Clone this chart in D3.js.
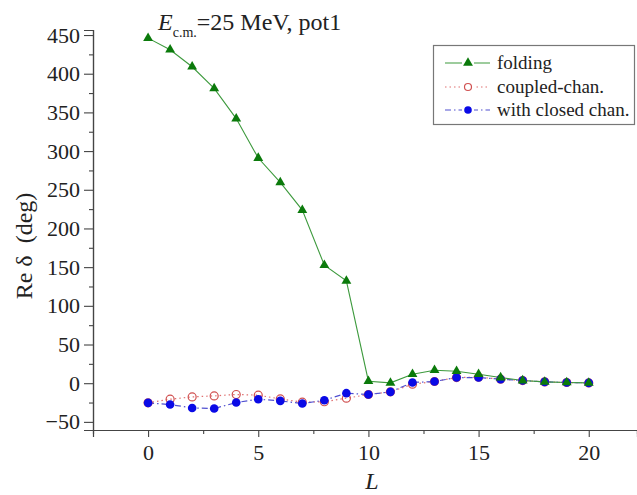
<!DOCTYPE html>
<html><head><meta charset="utf-8">
<script src="https://cdn.jsdelivr.net/npm/d3@7"></script>
<style>body{margin:0;background:#fff}svg{display:block}svg text{font-family:"Liberation Serif","DejaVu Serif",serif !important}</style>
</head><body>
<script>
const L = [0,1,2,3,4,5,6,7,8,9,10,11,12,13,14,15,16,17,18,19,20];
const folding = [446,431,409,381,342,291,259.5,223.7,152.5,132.3,2.6,0.4,11.6,16.8,15.5,11.6,7.3,3.4,1.7,0.9,0.4];
const coupled = [-25.4,-20.7,-17.7,-16.4,-14.6,-15.5,-20.3,-24.6,-24,-19.4,-14.6,-11.2,-1.3,2.2,7.3,7.8,5.2,3.4,1.7,0.9,0.4];
const closed = [-25.4,-27.6,-32,-32.8,-25,-20.7,-22.9,-26.3,-22,-12.9,-14.6,-11.2,0.9,2.2,7.3,7.3,5.2,3.4,1.7,0.9,0.4];
const xTicks = [0,5,10,15,20];
const yTicks = [-50,0,50,100,150,200,250,300,350,400,450];
const seriesNames = ["folding","coupled-chan.","with closed chan."];

const W = 637, H = 495;
const svg = d3.select("body").append("svg").attr("width", W).attr("height", H);
const x = d3.scaleLinear().domain([-2.5, 22.19]).range([93, 637]);
const y = d3.scaleLinear().domain([-60.5, 456.5]).range([430, 30]);
const axisCol = "#444";

// axes
const xAxis = svg.append("g").attr("transform", `translate(0,${y.range()[0]})`)
  .call(d3.axisBottom(x).tickValues(xTicks).tickSize(7).tickPadding(6).tickFormat(d3.format("d")));
const xMinor = svg.append("g").attr("transform", `translate(0,${y.range()[0]})`)
  .call(d3.axisBottom(x).tickValues([2.5,7.5,12.5,17.5]).tickSize(4).tickFormat(""));
const yAxis = svg.append("g").attr("transform", `translate(${x.range()[0]},0)`)
  .call(d3.axisLeft(y).tickValues(yTicks).tickSize(9).tickPadding(4).tickFormat(d3.format("d")));
const yMinor = svg.append("g").attr("transform", `translate(${x.range()[0]},0)`)
  .call(d3.axisLeft(y).tickValues(d3.range(-25, 450, 50)).tickSize(4).tickFormat(""));
[xAxis, xMinor, yAxis, yMinor].forEach(g => {
  g.select(".domain").attr("stroke", axisCol).attr("stroke-width", 1.2);
  g.selectAll(".tick line").attr("stroke", axisCol).attr("stroke-width", 1.1);
  g.selectAll(".tick text").style("font-size", "22px").attr("fill", "#222");
});
xAxis.selectAll(".tick text").attr("dy", "0.78em");

// axis titles
svg.append("text").attr("x", 372).attr("y", 489).attr("text-anchor", "middle")
  .style("font-size", "24px").attr("font-style", "italic").attr("fill", "#222").text("L");
svg.append("text").attr("transform", "translate(32,246) rotate(-90)").attr("text-anchor", "middle")
  .style("font-size", "24px").attr("fill", "#222").attr("xml:space", "preserve").text("Re δ  (deg)");

// title
const t = svg.append("text").attr("x", 158).attr("y", 30).style("font-size", "24px").attr("fill", "#222");
t.append("tspan").attr("font-style", "italic").text("E");
t.append("tspan").style("font-size", "14px").attr("dy", 7).text("c.m.");
t.append("tspan").attr("dy", -7).text("=25 MeV, pot1");

// data
const pts = arr => L.map((l, i) => [l, arr[i]]);
const line = d3.line().x(d => x(d[0])).y(d => y(d[1]));

svg.append("path").datum(pts(coupled)).attr("d", line).attr("fill", "none")
  .attr("stroke", "#e07070").attr("stroke-width", 1.2).attr("stroke-dasharray", "1.5,3");
svg.append("path").datum(pts(closed)).attr("d", line).attr("fill", "none")
  .attr("stroke", "#5050d0").attr("stroke-width", 1.2).attr("stroke-dasharray", "6,3,1.5,3");
svg.append("path").datum(pts(folding)).attr("d", line).attr("fill", "none")
  .attr("stroke", "#3d9a3d").attr("stroke-width", 1.1);

svg.append("g").selectAll("circle").data(pts(coupled)).join("circle")
  .attr("cx", d => x(d[0])).attr("cy", d => y(d[1])).attr("r", 4)
  .attr("fill", "none").attr("stroke", "#d05050").attr("stroke-width", 1.2);
svg.append("g").selectAll("circle").data(pts(closed)).join("circle")
  .attr("cx", d => x(d[0])).attr("cy", d => y(d[1])).attr("r", 4.3)
  .attr("fill", "#0a0ae6");
const tri = d3.symbol().type(d3.symbolTriangle).size(42);
svg.append("g").selectAll("path").data(pts(folding)).join("path")
  .attr("d", tri).attr("transform", d => `translate(${x(d[0])},${y(d[1])})`)
  .attr("fill", "#0b7a0b");

// legend
const lg = svg.append("g");
lg.append("rect").attr("x", 433.5).attr("y", 45.5).attr("width", 201).attr("height", 79)
  .attr("fill", "#fff").attr("stroke", "#777").attr("stroke-width", 1.2);
const rowsY = [63, 87, 110];
const styles = [
  {stroke:"#3d9a3d", dash:null},
  {stroke:"#e07070", dash:"1.5,3"},
  {stroke:"#5050d0", dash:"6,3,1.5,3"}
];
seriesNames.forEach((n, i) => {
  lg.append("line").attr("x1", 445).attr("x2", 490).attr("y1", rowsY[i]).attr("y2", rowsY[i])
    .attr("stroke", styles[i].stroke).attr("stroke-width", 1.2).attr("stroke-dasharray", styles[i].dash);
  lg.append("text").attr("x", 497).attr("y", rowsY[i]).attr("dy", "0.32em")
    .style("font-size", "19px").attr("fill", "#222").text(n);
});
lg.append("rect").attr("x", 462).attr("y", rowsY[0]-7).attr("width", 12).attr("height", 12).attr("fill", "#fff");
lg.append("path").attr("d", tri).attr("transform", `translate(468,${rowsY[0]})`).attr("fill", "#0b7a0b");
lg.append("rect").attr("x", 462).attr("y", rowsY[1]-6).attr("width", 12).attr("height", 12).attr("fill", "#fff");
lg.append("circle").attr("cx", 468).attr("cy", rowsY[1]).attr("r", 3.5).attr("fill", "none").attr("stroke", "#d05050").attr("stroke-width", 1.2);
lg.append("rect").attr("x", 462).attr("y", rowsY[2]-6).attr("width", 12).attr("height", 12).attr("fill", "#fff");
lg.append("circle").attr("cx", 468).attr("cy", rowsY[2]).attr("r", 3.8).attr("fill", "#0a0ae6");
</script>
</body></html>
